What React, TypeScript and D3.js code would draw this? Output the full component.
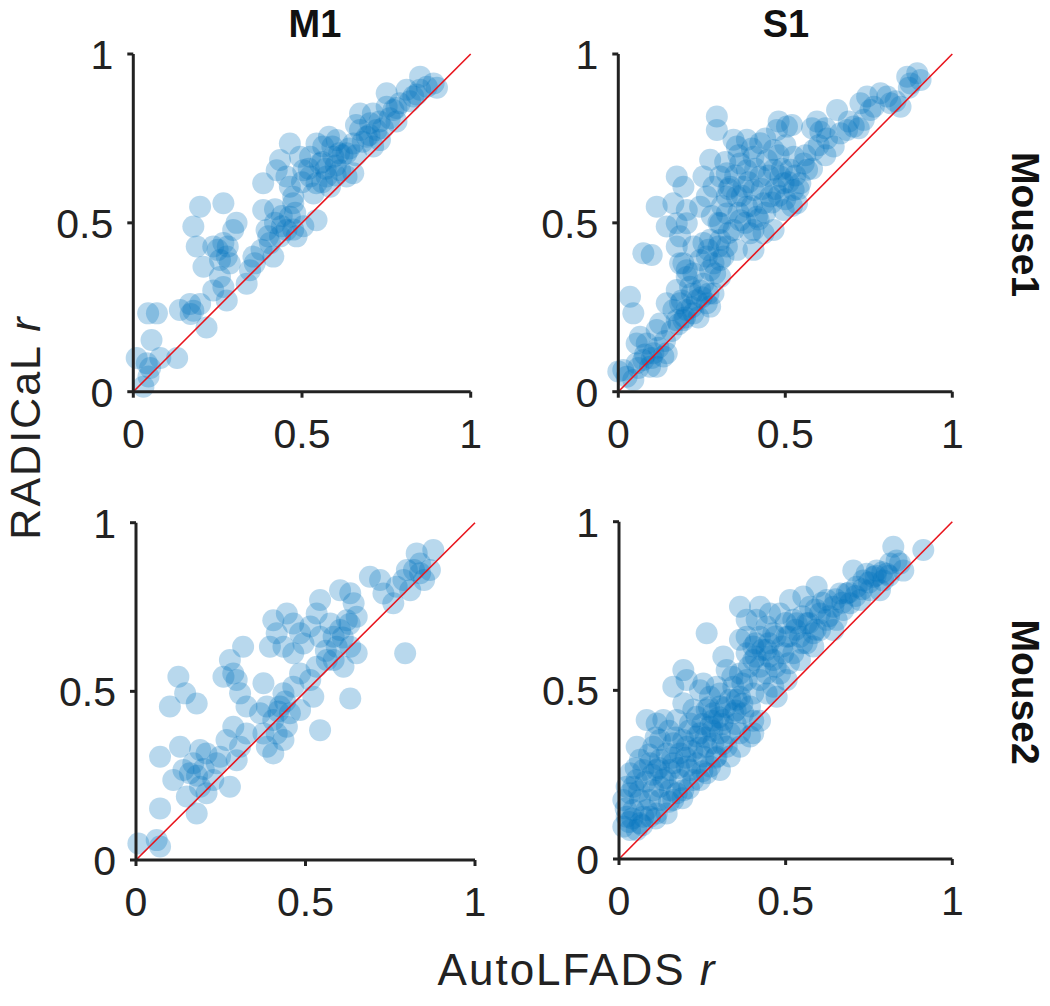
import React from 'react';
import * as d3 from 'd3';

// ---------- data (AutoLFADS r, RADICaL r) ----------
const m1Mouse1: [number, number][] = [
  [0.01,0.10],[0.03,0.015],[0.045,0.045],[0.04,0.084],[0.08,0.10],[0.13,0.10],[0.054,0.153],[0.044,0.232],[0.07,0.232],
  [0.138,0.242],[0.168,0.26],[0.178,0.24],[0.217,0.19],[0.198,0.26],
  [0.237,0.30],[0.267,0.31],[0.277,0.27],[0.257,0.34],
  [0.178,0.489],[0.198,0.548],[0.188,0.43],[0.208,0.37],[0.267,0.558],[0.237,0.43],[0.267,0.44],[0.277,0.40],[0.296,0.479],[0.306,0.50],[0.286,0.38],[0.257,0.39],
  [0.346,0.36],[0.336,0.32],[0.356,0.40],[0.385,0.538],[0.385,0.617],[0.395,0.479],[0.405,0.44],[0.415,0.40],[0.42,0.50],[0.435,0.46],[0.454,0.479],[0.464,0.518],[0.474,0.48],[0.484,0.46],[0.474,0.558],[0.543,0.508],[0.504,0.49],
  [0.435,0.686],[0.464,0.735],[0.425,0.656],[0.454,0.637],[0.464,0.607],[0.474,0.577],[0.494,0.696],[0.504,0.656],[0.524,0.637],[0.543,0.617],[0.534,0.587],[0.543,0.735],[0.553,0.676],[0.573,0.637],[0.583,0.607],[0.593,0.696],[0.603,0.745],[0.613,0.656],[0.632,0.637],[0.652,0.647],[0.632,0.706],[0.652,0.735],[0.672,0.775],[0.672,0.824],[0.692,0.755],[0.702,0.795],[0.711,0.726],[0.721,0.775],[0.731,0.745],[0.751,0.884],[0.751,0.844],[0.771,0.834],[0.78,0.80],[0.79,0.854],[0.81,0.894],[0.83,0.874],[0.85,0.933],[0.85,0.894],[0.87,0.903],[0.89,0.913],[0.9,0.90],
  [0.66,0.79],[0.58,0.755],[0.59,0.726],[0.71,0.824],[0.73,0.80],[0.524,0.696],[0.563,0.726],[0.61,0.706],
  [0.56,0.62],[0.60,0.64],[0.57,0.66],[0.52,0.66],[0.44,0.52],[0.42,0.54],
  [0.56,0.68],[0.60,0.67],[0.62,0.70],[0.64,0.72],[0.66,0.70],[0.68,0.74],[0.70,0.76],[0.74,0.78],[0.76,0.81],[0.78,0.84],[0.82,0.86],[0.84,0.88],[0.50,0.62],[0.48,0.53],[0.44,0.49],[0.40,0.46],[0.38,0.42],[0.36,0.38],[0.28,0.43],[0.25,0.42],[0.17,0.23],[0.05,0.07]
];

const s1Mouse1: [number, number][] = [
  [0.0,0.06],[0.015,0.064],[0.025,0.044],[0.045,0.035],[0.055,0.084],[0.075,0.094],[0.095,0.074],[0.115,0.074],[0.105,0.114],[0.135,0.104],[0.145,0.114],[0.055,0.143],[0.065,0.163],[0.085,0.143],[0.115,0.183],[0.125,0.202],[0.035,0.281],[0.045,0.232],
  [0.145,0.262],[0.165,0.242],[0.175,0.212],[0.185,0.262],[0.205,0.242],[0.225,0.232],[0.235,0.271],[0.265,0.262],[0.275,0.252],[0.195,0.212],[0.175,0.301],[0.215,0.311],[0.205,0.34],[0.245,0.30],
  [0.075,0.41],[0.1,0.405],[0.185,0.38],[0.205,0.36],[0.175,0.43],[0.185,0.46],[0.245,0.39],[0.265,0.40],[0.285,0.38],[0.305,0.39],[0.315,0.40],[0.275,0.36],[0.305,0.34],[0.255,0.44],[0.275,0.45],
  [0.115,0.548],[0.145,0.489],[0.175,0.499],[0.205,0.499],[0.165,0.558],[0.205,0.538],[0.195,0.607],[0.175,0.637],[0.245,0.548],[0.255,0.637],[0.275,0.687],[0.295,0.815],[0.295,0.775],[0.305,0.499],[0.325,0.578],[0.325,0.528],[0.345,0.479],[0.355,0.726],[0.365,0.676],[0.375,0.607],[0.385,0.548],[0.395,0.469],[0.405,0.42],[0.415,0.518],[0.425,0.637],[0.425,0.736],[0.445,0.686],[0.455,0.578],[0.465,0.479],[0.475,0.775],[0.485,0.637],[0.495,0.538],[0.505,0.785],[0.515,0.657],[0.525,0.597],[0.535,0.558],[0.545,0.617],[0.565,0.657],[0.585,0.716],[0.595,0.80],[0.605,0.77],[0.625,0.75],[0.645,0.726],[0.665,0.765],[0.655,0.834],[0.685,0.775],[0.705,0.785],[0.725,0.854],[0.745,0.874],[0.765,0.844],[0.785,0.884],[0.805,0.874],[0.845,0.844],[0.865,0.933],[0.875,0.913],[0.895,0.943],[0.905,0.923],[0.735,0.805],[0.755,0.834],[0.815,0.854],
  [0.305,0.637],[0.335,0.607],[0.355,0.578],[0.385,0.656],[0.405,0.597],[0.435,0.558],[0.465,0.657],[0.495,0.617],[0.405,0.696],[0.465,0.716],[0.525,0.696],[0.555,0.676],[0.325,0.647],[0.285,0.607],[0.265,0.578],[0.345,0.746],[0.385,0.746],[0.435,0.469],[0.405,0.479],[0.365,0.508],[0.305,0.449],[0.325,0.43],[0.355,0.42],[0.225,0.43],[0.195,0.38],[0.225,0.35],[0.255,0.32],[0.285,0.291],
  [0.31,0.55],[0.33,0.60],[0.35,0.64],[0.37,0.58],[0.39,0.62],[0.41,0.66],[0.43,0.60],[0.45,0.64],[0.47,0.60],[0.49,0.66],[0.51,0.62],[0.53,0.64],[0.36,0.53],[0.38,0.50],[0.40,0.55],[0.42,0.51],[0.44,0.53],[0.46,0.56],[0.48,0.58],[0.50,0.57],[0.52,0.55],[0.54,0.60],[0.32,0.68],[0.36,0.70],[0.40,0.72],[0.44,0.75],[0.48,0.70],[0.50,0.73],[0.56,0.70],[0.58,0.66],[0.60,0.73],[0.62,0.70],[0.30,0.50],[0.28,0.52],[0.27,0.42],[0.30,0.43],[0.33,0.47],[0.29,0.35],[0.25,0.28],[0.22,0.25],[0.20,0.22],[0.18,0.20],[0.16,0.18],[0.14,0.15],[0.12,0.13],[0.10,0.10],[0.08,0.11],[0.06,0.07],[0.24,0.22],[0.27,0.29],[0.22,0.29],[0.19,0.27],[0.69,0.80],[0.72,0.78],[0.62,0.78],[0.58,0.78],[0.52,0.79],[0.48,0.80],[0.87,0.90],[0.83,0.86]
];

const m1Mouse2: [number, number][] = [
  [0.007,0.049],[0.061,0.059],[0.071,0.04],[0.071,0.153],[0.071,0.306],[0.1,0.455],[0.125,0.543],[0.145,0.494],[0.179,0.464],[0.13,0.336],[0.11,0.237],[0.15,0.188],[0.179,0.138],[0.14,0.267],[0.159,0.257],[0.169,0.287],[0.189,0.326],[0.208,0.316],[0.189,0.217],[0.208,0.198],[0.228,0.237],[0.238,0.287],[0.277,0.217],[0.248,0.306],[0.267,0.356],[0.287,0.395],[0.297,0.296],[0.307,0.336],[0.326,0.375],[0.326,0.455],[0.287,0.553],[0.277,0.593],[0.316,0.632],[0.258,0.543],[0.297,0.534],[0.307,0.494],[0.376,0.524],[0.366,0.435],[0.386,0.455],[0.376,0.375],[0.386,0.336],[0.405,0.316],[0.415,0.375],[0.405,0.415],[0.425,0.455],[0.435,0.494],[0.445,0.395],[0.435,0.356],[0.454,0.435],[0.464,0.514],[0.484,0.445],[0.484,0.553],[0.514,0.534],[0.523,0.484],[0.533,0.573],[0.543,0.385],[0.632,0.479],[0.651,0.613],[0.632,0.632],[0.794,0.613],
  [0.395,0.632],[0.415,0.672],[0.405,0.711],[0.445,0.731],[0.464,0.701],[0.484,0.672],[0.435,0.632],[0.464,0.613],[0.494,0.642],[0.514,0.692],[0.533,0.731],[0.543,0.771],[0.543,0.662],[0.573,0.701],[0.583,0.662],[0.592,0.632],[0.563,0.593],[0.602,0.80],[0.632,0.791],[0.642,0.761],[0.651,0.721],[0.622,0.711],[0.602,0.682],[0.583,0.593],[0.612,0.573],[0.69,0.84],[0.72,0.83],[0.73,0.79],[0.759,0.761],[0.769,0.81],[0.789,0.83],[0.809,0.80],[0.799,0.86],[0.828,0.909],[0.838,0.879],[0.867,0.86],[0.877,0.919],[0.838,0.85],
  [0.18,0.25],[0.20,0.27],[0.42,0.44],[0.44,0.47],[0.61,0.66],[0.63,0.70],[0.56,0.62],[0.82,0.86],[0.85,0.83]
];

const s1Mouse2: [number, number][] = [
  [0.013,0.096],[0.023,0.125],[0.033,0.086],[0.053,0.086],[0.043,0.145],[0.013,0.175],[0.023,0.214],[0.033,0.254],[0.053,0.234],[0.063,0.175],[0.073,0.125],[0.083,0.145],[0.093,0.175],[0.103,0.204],[0.073,0.264],[0.053,0.333],[0.093,0.284],[0.083,0.412],[0.113,0.402],[0.133,0.412],[0.123,0.353],[0.113,0.264],[0.123,0.175],[0.143,0.135],[0.133,0.234],[0.153,0.264],[0.143,0.313],[0.163,0.343],[0.173,0.195],[0.183,0.234],[0.203,0.274],[0.183,0.313],[0.193,0.353],[0.163,0.511],[0.193,0.56],[0.203,0.531],[0.213,0.402],[0.223,0.443],[0.233,0.363],[0.233,0.284],[0.253,0.304],[0.263,0.254],[0.223,0.234],[0.263,0.669],[0.253,0.52],[0.273,0.481],[0.263,0.443],[0.283,0.432],[0.303,0.452],[0.313,0.6],[0.313,0.412],[0.303,0.373],[0.283,0.343],[0.293,0.304],[0.323,0.333],[0.333,0.373],[0.343,0.432],[0.353,0.472],[0.343,0.511],[0.323,0.56],[0.363,0.748],[0.383,0.709],[0.363,0.65],[0.383,0.61],[0.363,0.55],[0.383,0.531],[0.403,0.491],[0.393,0.452],[0.423,0.41],[0.393,0.363],[0.363,0.373],[0.413,0.709],[0.423,0.659],[0.403,0.63],[0.443,0.62],[0.463,0.59],[0.443,0.55],[0.423,0.57],[0.463,0.511],[0.483,0.55],[0.473,0.481],[0.503,0.531],[0.493,0.61],[0.503,0.659],[0.463,0.669],[0.483,0.728],[0.523,0.709],[0.523,0.61],[0.543,0.59],[0.543,0.659],[0.553,0.778],[0.573,0.748],[0.563,0.699],[0.583,0.669],[0.593,0.807],[0.603,0.728],[0.623,0.709],[0.643,0.748],[0.663,0.787],[0.673,0.738],[0.693,0.758],[0.703,0.855],[0.713,0.807],[0.733,0.826],[0.753,0.797],[0.763,0.836],[0.773,0.855],[0.793,0.826],[0.813,0.876],[0.823,0.926],[0.833,0.885],[0.853,0.855],[0.913,0.916],[0.783,0.797],[0.643,0.679],[0.583,0.63],
  [0.033,0.195],[0.043,0.214],[0.063,0.106],[0.093,0.125],[0.113,0.135],[0.123,0.214],[0.153,0.204],[0.163,0.175],[0.193,0.204],[0.213,0.264],[0.243,0.234],[0.273,0.274],[0.263,0.333],[0.243,0.373],[0.273,0.393],[0.303,0.264],[0.333,0.304],[0.363,0.333],[0.403,0.373],[0.403,0.41],[0.063,0.294],[0.103,0.333],[0.123,0.294],[0.163,0.284],[0.203,0.333],[0.233,0.422],[0.173,0.412],[0.193,0.462],[0.243,0.5],[0.293,0.511],[0.303,0.491],[0.333,0.472],[0.363,0.481],[0.373,0.432],[0.423,0.531],[0.443,0.491],[0.403,0.59],[0.383,0.659],[0.443,0.689],[0.423,0.748],[0.453,0.728],[0.513,0.768],[0.533,0.699],[0.563,0.64],[0.603,0.679],[0.623,0.768],[0.653,0.709],[0.683,0.787],[0.723,0.768],[0.743,0.846],[0.803,0.846],[0.843,0.876],
  [0.02,0.15],[0.04,0.12],[0.06,0.20],[0.08,0.23],[0.05,0.27],[0.10,0.25],[0.12,0.27],[0.14,0.24],[0.16,0.30],[0.18,0.27],[0.20,0.30],[0.22,0.32],[0.09,0.31],[0.11,0.36],[0.15,0.38],[0.17,0.36],[0.21,0.38],[0.25,0.40],[0.28,0.41],[0.27,0.45],[0.30,0.42],[0.32,0.45],[0.31,0.40],[0.35,0.44],[0.37,0.46],[0.26,0.36],[0.24,0.33],[0.28,0.38],[0.35,0.40],[0.34,0.54],[0.37,0.52],[0.39,0.57],[0.41,0.60],[0.41,0.64],[0.43,0.62],[0.45,0.64],[0.47,0.66],[0.45,0.60],[0.47,0.57],[0.49,0.63],[0.51,0.66],[0.53,0.68],[0.50,0.70],[0.55,0.72],[0.57,0.70],[0.59,0.74],[0.61,0.76],[0.63,0.72],[0.65,0.77],[0.67,0.76],[0.69,0.79],[0.71,0.78],[0.73,0.80],[0.75,0.82],[0.77,0.84],[0.79,0.85],[0.81,0.84],[0.59,0.68],[0.55,0.64],[0.51,0.58],[0.19,0.18],[0.21,0.21],[0.25,0.26],[0.29,0.30],[0.31,0.34],[0.15,0.17],[0.11,0.12],[0.07,0.10],[0.03,0.11]
];

const tickValues = [0, 0.5, 1];
const tickLabels = ['0', '0.5', '1'];
const columnTitles = ['M1', 'S1'];
const rowTitles = ['Mouse1', 'Mouse2'];
const xLabel = 'AutoLFADS';
const yLabel = 'RADICaL';

// ---------- layout ----------
const panels = [
  { data: m1Mouse1, xr: [133.3, 470.7], yr: [391.7, 54] },
  { data: s1Mouse1, xr: [618.3, 952.3], yr: [391.7, 54] },
  { data: m1Mouse2, xr: [136, 475], yr: [860, 522.7] },
  { data: s1Mouse2, xr: [619, 952.3], yr: [859, 521.7] },
];

const FONT = '"Liberation Sans", Arial, Helvetica, sans-serif';
const AXIS = '#222222';
const DOT = '#0072BD';

function Panel({ data, xr, yr }: { data: [number, number][]; xr: number[]; yr: number[] }) {
  const x = d3.scaleLinear().domain([0, 1]).range(xr);
  const y = d3.scaleLinear().domain([0, 1]).range(yr);
  const line = d3.line<number>().x((d) => x(d)).y((d) => y(d));
  return (
    <g>
      {data.map((d, i) => (
        <circle key={i} cx={x(d[0])} cy={y(d[1])} r={11} fill={DOT} fillOpacity={0.28} />
      ))}
      <path d={line([0, 1]) || ''} stroke="#e8141c" strokeWidth={1.6} fill="none" />
      <line x1={x(0)} x2={x(1)} y1={y(0)} y2={y(0)} stroke={AXIS} strokeWidth={3} />
      <line x1={x(0)} x2={x(0)} y1={y(0)} y2={y(1)} stroke={AXIS} strokeWidth={3} />
      {tickValues.map((t, i) => (
        <g key={'t' + i}>
          <line x1={x(t)} x2={x(t)} y1={y(0)} y2={y(0) + 6} stroke={AXIS} strokeWidth={3} />
          <line x1={x(0) - 6} x2={x(0)} y1={y(t)} y2={y(t)} stroke={AXIS} strokeWidth={3} />
          <text x={x(t)} y={y(0) + 56} textAnchor="middle" fontSize={41} fontFamily={FONT} fill={AXIS}>
            {tickLabels[i]}
          </text>
          <text x={x(0) - 20} y={y(t) + 15} textAnchor="end" fontSize={41} fontFamily={FONT} fill={AXIS}>
            {tickLabels[i]}
          </text>
        </g>
      ))}
    </g>
  );
}

export default function App() {
  return (
    <svg width={1050} height={1006} style={{ position: 'absolute', left: 0, top: 0, background: '#fff' }}>
      <rect width={1050} height={1006} fill="#fff" />
      {panels.map((p, i) => (
        <Panel key={i} data={p.data} xr={p.xr} yr={p.yr} />
      ))}
      <text x={315} y={37} textAnchor="middle" fontSize={38} fontWeight="bold" fontFamily={FONT} fill="#111">{columnTitles[0]}</text>
      <text x={786} y={37} textAnchor="middle" fontSize={38} fontWeight="bold" fontFamily={FONT} fill="#111">{columnTitles[1]}</text>
      <text transform="translate(1012,224.5) rotate(90)" textAnchor="middle" fontSize={39} fontWeight="bold" fontFamily={FONT} fill="#111">{rowTitles[0]}</text>
      <text transform="translate(1012,692) rotate(90)" textAnchor="middle" fontSize={39} fontWeight="bold" fontFamily={FONT} fill="#111">{rowTitles[1]}</text>
      <text x={577} y={985} textAnchor="middle" fontSize={44} letterSpacing={2} fontFamily={FONT} fill={AXIS}>
        {xLabel} <tspan fontStyle="italic">r</tspan>
      </text>
      <text transform="translate(40,427.5) rotate(-90)" textAnchor="middle" fontSize={43} letterSpacing={2} fontFamily={FONT} fill={AXIS}>
        {yLabel} <tspan fontStyle="italic">r</tspan>
      </text>
    </svg>
  );
}
